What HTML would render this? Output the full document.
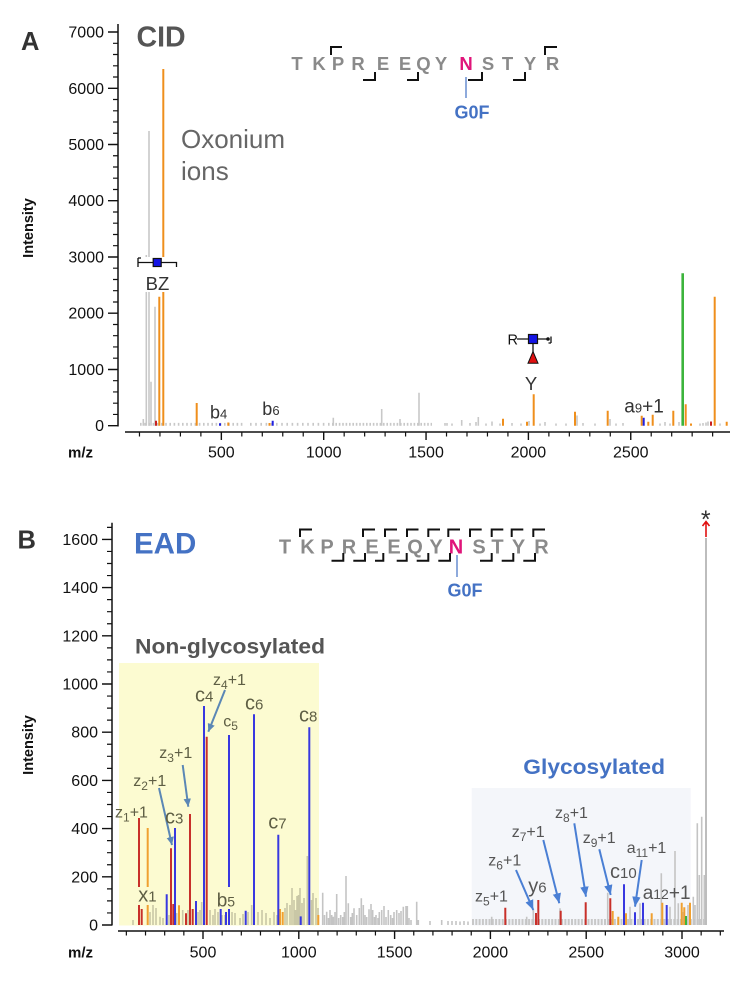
<!DOCTYPE html>
<html><head><meta charset="utf-8"><style>
html,body{margin:0;padding:0;background:#fff}
svg{display:block}
text{font-family:"Liberation Sans",Arial,sans-serif}
</style></head><body>
<svg width="750" height="981" viewBox="0 0 750 981" xmlns="http://www.w3.org/2000/svg">
<defs>
<marker id="ahy" markerWidth="8" markerHeight="8" refX="8" refY="4" orient="auto" markerUnits="userSpaceOnUse"><path d="M0,0.3 L8,4 L0,7.7z" fill="#5b87b5"/></marker>
<marker id="ahb" markerWidth="10" markerHeight="9" refX="10" refY="4.5" orient="auto" markerUnits="userSpaceOnUse"><path d="M0,0.3 L10,4.5 L0,8.7z" fill="#4a7fd4"/></marker>
</defs>
<rect width="750" height="981" fill="#fff"/>

<!-- ============ PANEL A ============ -->
<text x="21" y="50" font-size="25.5" font-weight="bold" fill="#333">A</text>
<text x="136.5" y="46.7" font-size="28.5" font-weight="bold" fill="#555">CID</text>

<!-- sequence A -->
<g font-size="18.5" font-weight="bold" fill="#8a8a8a" text-anchor="middle">
<text x="297" y="70">T</text><text x="319" y="70">K</text><text x="338" y="70">P</text><text x="358" y="70">R</text>
<text x="383" y="70">E</text><text x="405" y="70">E</text><text x="423.5" y="70">Q</text><text x="441" y="70">Y</text>
<text x="466" y="70" fill="#e0157a">N</text><text x="488" y="70">S</text><text x="507.5" y="70">T</text><text x="530" y="70">Y</text><text x="552.5" y="70">R</text>
</g>
<path d="M331 55V47H342M545 55V47H557M363 80H375V72M407 80H418V72M468 80H482V72M513 80H525V72" stroke="#111" stroke-width="2" fill="none"/>
<line x1="466" y1="77" x2="466" y2="98" stroke="#4472c4" stroke-width="1.2"/>
<text x="472" y="118.3" font-size="18" font-weight="bold" fill="#4472c4" text-anchor="middle">G0F</text>

<!-- axes A -->
<line x1="118" y1="24" x2="118" y2="426.5" stroke="#111" stroke-width="1.5"/>
<path d="M108 425.7H118M108 369.5H118M108 313.2H118M108 257H118M108 200.7H118M108 144.5H118M108 88.3H118M108 32H118" stroke="#111" stroke-width="1.4"/>
<path d="M113 414.45H118M113 403.2H118M113 391.96H118M113 380.7H118M113 358.2H118M113 346.96H118M113 335.7H118M113 324.5H118M113 302H118M113 290.7H118M113 279.5H118M113 268.2H118M113 245.7H118M113 234.5H118M113 223.2H118M113 212H118M113 189.5H118M113 178.2H118M113 167H118M113 155.75H118M113 133.25H118M113 122H118M113 110.8H118M113 99.5H118M113 77H118M113 65.8H118M113 54.5H118M113 43.3H118" stroke="#111" stroke-width="1.2"/>
<g font-size="16" fill="#111" text-anchor="end">
<text x="104" y="431.2">0</text><text x="104" y="375">1000</text><text x="104" y="318.7">2000</text><text x="104" y="262.5">3000</text>
<text x="104" y="206.2">4000</text><text x="104" y="150">5000</text><text x="104" y="93.8">6000</text><text x="104" y="37.5">7000</text>
</g>
<text transform="translate(33,228) rotate(-90)" font-size="14.5" font-weight="bold" fill="#111" text-anchor="middle">Intensity</text>

<line x1="125" y1="432" x2="730" y2="432" stroke="#111" stroke-width="1.5"/>
<path d="M221.35 432V440M323.7 432V440M426.05 432V440M528.4 432V440M630.75 432V440" stroke="#111" stroke-width="1.4"/>
<path d="M139.47 432V436.5M159.94 432V436.5M180.41 432V436.5M200.88 432V436.5M241.82 432V436.5M262.29 432V436.5M282.76 432V436.5M303.23 432V436.5M344.17 432V436.5M364.64 432V436.5M385.11 432V436.5M405.58 432V436.5M446.52 432V436.5M466.99 432V436.5M487.46 432V436.5M507.93 432V436.5M548.87 432V436.5M569.34 432V436.5M589.81 432V436.5M610.28 432V436.5M651.22 432V436.5M671.69 432V436.5M692.16 432V436.5M712.63 432V436.5" stroke="#111" stroke-width="1.2"/>
<g font-size="16" fill="#111" text-anchor="middle">
<text x="221.35" y="457.5">500</text><text x="323.7" y="457.5">1000</text><text x="426.05" y="457.5">1500</text><text x="528.4" y="457.5">2000</text><text x="630.75" y="457.5">2500</text>
</g>
<text x="68" y="457.5" font-size="15" font-weight="bold" fill="#111">m/z</text>

<!-- noise A -->
<line x1="140" y1="424.3" x2="245" y2="424.3" stroke="#c8c8c8" stroke-width="2.8" stroke-dasharray="1.6 2.6"/>
<line x1="250" y1="424.3" x2="330" y2="424.3" stroke="#c8c8c8" stroke-width="2.8" stroke-dasharray="1.6 3.6"/>
<line x1="332" y1="424.3" x2="432" y2="424.3" stroke="#c8c8c8" stroke-width="2.8" stroke-dasharray="1.6 1.8"/>
<path d="M447 425.7V423M452 425.7V423.5M470 425.7V423M486 425.7V423.5M500 425.7V423.5M512 425.7V423M521 425.7V423.5M540 425.7V423.5M556 425.7V423.5M566 425.7V423.5M583 425.7V423M595 425.7V423.5M616 425.7V423.5M623 425.7V423M660 425.7V423.5M670 425.7V423.5M700 425.7V423.5M703 425.7V423M720 425.7V423.5" stroke="#c8c8c8" stroke-width="1.6"/>
<!-- gray peaks A -->
<path d="M143.3 425.7V419M146.3 425.7V255M149 425.7V131M151 425.7V381.7M155 425.7V306.7M333.3 425.7V417.7M381.7 425.7V409M400 425.7V419M419 425.7V392.7M445 425.7V423M461.7 425.7V420M476 425.7V422M478.3 425.7V417M492 425.7V421.5M529 425.7V421M545 425.7V422M577 425.7V415.5M610 425.7V419M665 425.7V422M679 425.7V422M706 425.7V422.5M708 425.7V421.5" stroke="#c8c8c8" stroke-width="1.6"/>
<!-- orange A -->
<path d="M159.3 425.7V296.7M163.3 425.7V69M196.7 425.7V403M228.3 425.7V422.5M269.5 425.7V423M503 425.7V418.7M527 425.7V421.7M533.7 425.7V394.2M575 425.7V411.7M607.7 425.7V410.7M641.7 425.7V415.7M648.3 425.7V421.7M652.7 425.7V414.7M673.3 425.7V410.7M685.7 425.7V404.2M691 425.7V423.5M714.7 425.7V296.7M726.7 425.7V421.7" stroke="#ef8f1c" stroke-width="2"/>
<path d="M220 425.7V423.2M272.7 425.7V420.8M643.7 425.7V417.7" stroke="#2020e0" stroke-width="2"/>
<path d="M156 425.7V420.8M711 425.7V421.5" stroke="#c82020" stroke-width="2"/>
<line x1="682.7" y1="425.7" x2="682.7" y2="273.3" stroke="#3cb43c" stroke-width="2.6"/>

<!-- BZ symbol -->
<rect x="141" y="257" width="32" height="35" fill="#fff"/>
<path d="M138 262.5H176.5V267M138 258V267M138 258H141" stroke="#111" stroke-width="1.3" fill="none"/>
<rect x="153.2" y="258.5" width="8" height="8" fill="#1414e6" stroke="#111" stroke-width="1.2"/>
<text x="157.5" y="290" font-size="18.5" fill="#333" text-anchor="middle">BZ</text>

<!-- Y symbol -->
<text x="507.5" y="344.5" font-size="14.5" fill="#111">R</text>
<path d="M517 339H548.5M551 336.5V343M548.5 343H551M533 343V352" stroke="#111" stroke-width="1.3" fill="none"/>
<circle cx="548" cy="339" r="1.8" fill="#111"/>
<rect x="528.5" y="334.5" width="9" height="9" fill="#1414e6" stroke="#111" stroke-width="1.2"/>
<path d="M533 351.5L538 363.3H528z" fill="#e01010" stroke="#111" stroke-width="1"/>
<text x="531" y="390" font-size="18.5" fill="#333" text-anchor="middle">Y</text>

<text x="181" y="148" font-size="26" fill="#666">Oxonium</text>
<text x="181" y="180" font-size="26" fill="#666">ions</text>

<text x="210" y="418.3" font-size="18" fill="#333">b<tspan font-size="13">4</tspan></text>
<text x="262.3" y="415" font-size="18" fill="#333">b<tspan font-size="13">6</tspan></text>
<text x="624.3" y="412.7" font-size="19" fill="#333">a<tspan font-size="13">9</tspan>+1</text>

<!-- ============ PANEL B ============ -->
<text x="17.5" y="548.3" font-size="25.5" font-weight="bold" fill="#333">B</text>
<text x="134" y="553.3" font-size="29.5" font-weight="bold" fill="#4472c4">EAD</text>

<g font-size="20" font-weight="bold" fill="#8a8a8a" text-anchor="middle">
<text x="285" y="553.3">T</text><text x="307.5" y="553.3">K</text><text x="327" y="553.3">P</text><text x="349" y="553.3">R</text>
<text x="372" y="553.3">E</text><text x="394" y="553.3">E</text><text x="415" y="553.3">Q</text><text x="436" y="553.3">Y</text>
<text x="456" y="553.3" fill="#e0157a">N</text><text x="479" y="553.3">S</text><text x="497.5" y="553.3">T</text><text x="518.5" y="553.3">Y</text><text x="541.5" y="553.3">R</text>
</g>
<path d="M300 537V529.5H312M363 537V529.5H375M385 537V529.5H397M407 537V529.5H418.5M428.3 537V529.5H440M448.3 537V529.5H460M470 537V529.5H481.7M491.7 537V529.5H503.3M511.7 537V529.5H523.3M533.3 537V529.5H545" stroke="#111" stroke-width="2" fill="none"/>
<path d="M331.5 560.7H343.3V553M353.3 560.7H365V553M375 560.7H383.3V553M396.7 560.7H406.7V553M416.7 560.7H428.3V553M438.3 560.7H450V553M480 560.7H491.7V553M501.7 560.7H513.3V553M523.3 560.7H535V553" stroke="#111" stroke-width="2" fill="none"/>
<line x1="457" y1="555" x2="457" y2="577" stroke="#4472c4" stroke-width="1.2"/>
<text x="465" y="596.7" font-size="18" font-weight="bold" fill="#4472c4" text-anchor="middle">G0F</text>

<!-- boxes -->
<rect x="119" y="663" width="200" height="262.5" fill="#fcfbd1"/>
<rect x="471.7" y="788" width="219" height="137.5" fill="#f4f6fa"/>

<text x="135" y="653.3" font-size="21.5" font-weight="bold" fill="#555" textLength="190" lengthAdjust="spacingAndGlyphs">Non-glycosylated</text>
<text x="523.3" y="774" font-size="21.5" font-weight="bold" fill="#4472c4" textLength="141.7" lengthAdjust="spacingAndGlyphs">Glycosylated</text>

<!-- axes B -->
<line x1="112" y1="522.7" x2="112" y2="925.5" stroke="#111" stroke-width="1.5"/>
<path d="M102 925H112M102 876.8H112M102 828.6H112M102 780.4H112M102 732.2H112M102 684H112M102 635.8H112M102 587.6H112M102 539.4H112" stroke="#111" stroke-width="1.4"/>
<path d="M107 912.95H112M107 900.9H112M107 888.85H112M107 864.75H112M107 852.7H112M107 840.65H112M107 816.55H112M107 804.5H112M107 792.45H112M107 768.35H112M107 756.3H112M107 744.25H112M107 720.15H112M107 708.1H112M107 696.05H112M107 671.95H112M107 659.9H112M107 647.85H112M107 623.75H112M107 611.7H112M107 599.65H112M107 575.55H112M107 563.5H112M107 551.45H112M107 527.35H112" stroke="#111" stroke-width="1.2"/>
<g font-size="16" fill="#111" text-anchor="end">
<text x="98" y="930.5">0</text><text x="98" y="882.3">200</text><text x="98" y="834.1">400</text><text x="98" y="785.9">600</text><text x="98" y="737.7">800</text>
<text x="98" y="689.5">1000</text><text x="98" y="641.3">1200</text><text x="98" y="593.1">1400</text><text x="98" y="544.9">1600</text>
</g>
<text transform="translate(33,745) rotate(-90)" font-size="14.5" font-weight="bold" fill="#111" text-anchor="middle">Intensity</text>

<line x1="118" y1="931" x2="724" y2="931" stroke="#111" stroke-width="1.5"/>
<path d="M203 931V939M298.8 931V939M394.6 931V939M490.4 931V939M586.2 931V939M682 931V939" stroke="#111" stroke-width="1.4"/>
<path d="M126.36 931V935.5M145.52 931V935.5M164.68 931V935.5M183.84 931V935.5M222.16 931V935.5M241.32 931V935.5M260.48 931V935.5M279.64 931V935.5M317.96 931V935.5M337.12 931V935.5M356.28 931V935.5M375.44 931V935.5M413.76 931V935.5M432.92 931V935.5M452.08 931V935.5M471.24 931V935.5M509.56 931V935.5M528.72 931V935.5M547.88 931V935.5M567.04 931V935.5M605.36 931V935.5M624.52 931V935.5M643.68 931V935.5M662.84 931V935.5M701.16 931V935.5M720.32 931V935.5" stroke="#111" stroke-width="1.2"/>
<g font-size="16" fill="#111" text-anchor="middle">
<text x="203" y="957.5">500</text><text x="298.8" y="957.5">1000</text><text x="394.6" y="957.5">1500</text><text x="490.4" y="957.5">2000</text><text x="586.2" y="957.5">2500</text><text x="682" y="957.5">3000</text>
</g>
<text x="68" y="957.5" font-size="15" font-weight="bold" fill="#111">m/z</text>

<!-- gray peaks in yellow -->
<path d="M133 925V920M150 925V912M153 925V905M156 925V908M160 925V916.7M163 925V918M169 925V915M176.7 925V913M182.7 925V910M188 925V910M198 925V912M200 925V910M201.7 925V902M210 925V910M213 925V915M215 925V909M218 925V912M222 925V915M225 925V915M232 925V912M235 925V913M240 925V918M243 925V914M248 925V912M251.7 925V905M258 925V912M262 925V910M266 925V913M270 925V918M274 925V912M277 925V915M285 925V908M287 925V903M290 925V905M292 925V888M294 925V900M295.5 925V910M297 925V896M298.5 925V895M300 925V888M302 925V903M304 925V898M307.3 925V856M311.5 925V900M313 925V893M316 925V898M318 925V908" stroke="#c9c7a6" stroke-width="1.6"/>
<!-- gray peaks outside -->
<path d="M322.7 925V892.7M324.5 925V915M326.7 925V911.7M328.5 925V918M330 925V910M331.7 925V915M333.3 925V916.7M335 925V912M336.7 925V894M338.7 925V918M340.7 925V915M342.7 925V917M344.3 925V912M346 925V876M348.3 925V903.3M350.7 925V917M352.3 925V913M354 925V908.3M356.7 925V915M359.3 925V908M361.3 925V898.3M363.3 925V905M365 925V915M366.7 925V917M369 925V909.3M371 925V904M372.7 925V910M374.5 925V917M376 925V915M378 925V918M379.3 925V912M381.7 925V910M384 925V906M386 925V917M388.3 925V910M390.7 925V915M392.5 925V918M394 925V912M396.7 925V910M399 925V913M401 925V911M403.3 925V906.7M406 925V906M407.3 925V906M409 925V918M411 925V920M416.7 925V901.7M418.3 925V920M430 925V921M441.7 925V920M448 925V921M452 925V921M456 925V921M460 925V921.5M464 925V921M468 925V921.5" stroke="#c4c4c4" stroke-width="1.6"/>
<line x1="472" y1="922" x2="704" y2="922" stroke="#c8c8c8" stroke-width="6" stroke-dasharray="2 1.3"/>
<path d="M491.7 925V916.7M526.7 925V916.7M533.3 925V910M560 925V908.3M607.7 925V892.7M630 925V906.7M640 925V903.3M661.3 925V873.3M670 925V906.7M675 925V851M678.3 925V903.3M683 925V912M688 925V905M693.3 925V896.7M695 925V905M697.3 925V823.3M699.3 925V875M701.7 925V816.7M704.3 925V875" stroke="#c4c4c4" stroke-width="1.6"/>
<line x1="706" y1="925" x2="706" y2="538" stroke="#bdbdbd" stroke-width="2"/>

<!-- colored B -->
<path d="M139 925V905M139 887V818M141.7 925V909M171 925V848.3M173.3 925V904M186 925V913.3M190 925V814M192.7 925V909M206.7 925V736.7M505.3 925V907.7M536 925V913M538.3 925V900M560.7 925V910.7M585.7 925V902.3M610.3 925V898.3" stroke="#c8302a" stroke-width="2"/>
<path d="M147.7 925V905M147.7 887V828M179 925V905.3M280 925V909M282.7 925V912M318.3 925V915M612.7 925V911M618.3 925V916.7M626 925V913.3M651.7 925V913.3M662.3 925V902.7M681.7 925V902.7M684.3 925V907.3M690 925V902.7" stroke="#f0a030" stroke-width="2"/>
<path d="M166.7 925V894.3M175 925V828M196 925V901M204 925V706M220.7 925V909M226 925V912M229 925V909M229 887V735M245.7 925V910.7M254 925V714.3M278.3 925V834.7M300.7 925V916.4M309.3 925V727.3M624 925V884.3M635 925V912.3M643 925V902.7M666.7 925V905" stroke="#3838e0" stroke-width="2"/>
<line x1="686" y1="925" x2="686" y2="916" stroke="#3cb43c" stroke-width="2"/>

<!-- red arrow + asterisk -->
<path d="M706 537V522M702.5 526L706 521.5L709.5 526" stroke="#e01010" stroke-width="1.6" fill="none"/>
<text x="705.7" y="528" font-size="25" fill="#333" text-anchor="middle">*</text>

<!-- arrows yellow -->
<g stroke="#5b87b5" stroke-width="2">
<line x1="159" y1="788" x2="172" y2="845" marker-end="url(#ahy)"/>
<line x1="182.7" y1="765" x2="188.3" y2="806.7" marker-end="url(#ahy)"/>
<line x1="225" y1="690" x2="208.3" y2="731.7" marker-end="url(#ahy)"/>
</g>
<!-- arrows glyco -->
<g stroke="#4a7fd4" stroke-width="2">
<line x1="516" y1="870" x2="533.3" y2="910" marker-end="url(#ahb)"/>
<line x1="543.3" y1="840" x2="559.3" y2="903.3" marker-end="url(#ahb)"/>
<line x1="574.3" y1="823.3" x2="586" y2="896.7" marker-end="url(#ahb)"/>
<line x1="599.3" y1="849.3" x2="610.7" y2="895" marker-end="url(#ahb)"/>
<line x1="641.7" y1="860" x2="635" y2="906.7" marker-end="url(#ahb)"/>
</g>

<!-- labels yellow -->
<g fill="#5e5e44">
<text x="115" y="817.5" font-size="16">z<tspan font-size="12" dy="4">1</tspan><tspan dy="-4">+1</tspan></text>
<text x="133.3" y="786" font-size="16">z<tspan font-size="12" dy="4">2</tspan><tspan dy="-4">+1</tspan></text>
<text x="159.3" y="758" font-size="16">z<tspan font-size="12" dy="4">3</tspan><tspan dy="-4">+1</tspan></text>
<text x="213" y="685" font-size="16">z<tspan font-size="12" dy="4">4</tspan><tspan dy="-4">+1</tspan></text>
<text x="165" y="823.3" font-size="20">c<tspan font-size="15">3</tspan></text>
<text x="195" y="701.7" font-size="20">c<tspan font-size="15">4</tspan></text>
<text x="223.3" y="726.7" font-size="16">c<tspan font-size="12" dy="3.5">5</tspan></text>
<text x="245" y="709.3" font-size="20">c<tspan font-size="15">6</tspan></text>
<text x="268.3" y="828.3" font-size="20">c<tspan font-size="15">7</tspan></text>
<text x="299" y="721.7" font-size="20">c<tspan font-size="15">8</tspan></text>
<text x="138.3" y="901.7" font-size="20">x<tspan font-size="15">1</tspan></text>
<text x="216.7" y="906.7" font-size="19">b<tspan font-size="14">5</tspan></text>
</g>
<!-- labels glyco -->
<g fill="#555">
<text x="475" y="901.7" font-size="16">z<tspan font-size="12" dy="4">5</tspan><tspan dy="-4">+1</tspan></text>
<text x="488.3" y="865.5" font-size="16">z<tspan font-size="12" dy="4">6</tspan><tspan dy="-4">+1</tspan></text>
<text x="511.7" y="837" font-size="16">z<tspan font-size="12" dy="4">7</tspan><tspan dy="-4">+1</tspan></text>
<text x="555" y="818" font-size="16">z<tspan font-size="12" dy="4">8</tspan><tspan dy="-4">+1</tspan></text>
<text x="582.7" y="843" font-size="16">z<tspan font-size="12" dy="4">9</tspan><tspan dy="-4">+1</tspan></text>
<text x="626.7" y="853" font-size="16">a<tspan font-size="12" dy="4">11</tspan><tspan dy="-4">+1</tspan></text>
<text x="528.3" y="892.7" font-size="20">y<tspan font-size="15">6</tspan></text>
<text x="610" y="878" font-size="20">c<tspan font-size="15">10</tspan></text>
<text x="642.7" y="899" font-size="19">a<tspan font-size="14">12</tspan>+1</text>
</g>
</svg>
</body></html>
